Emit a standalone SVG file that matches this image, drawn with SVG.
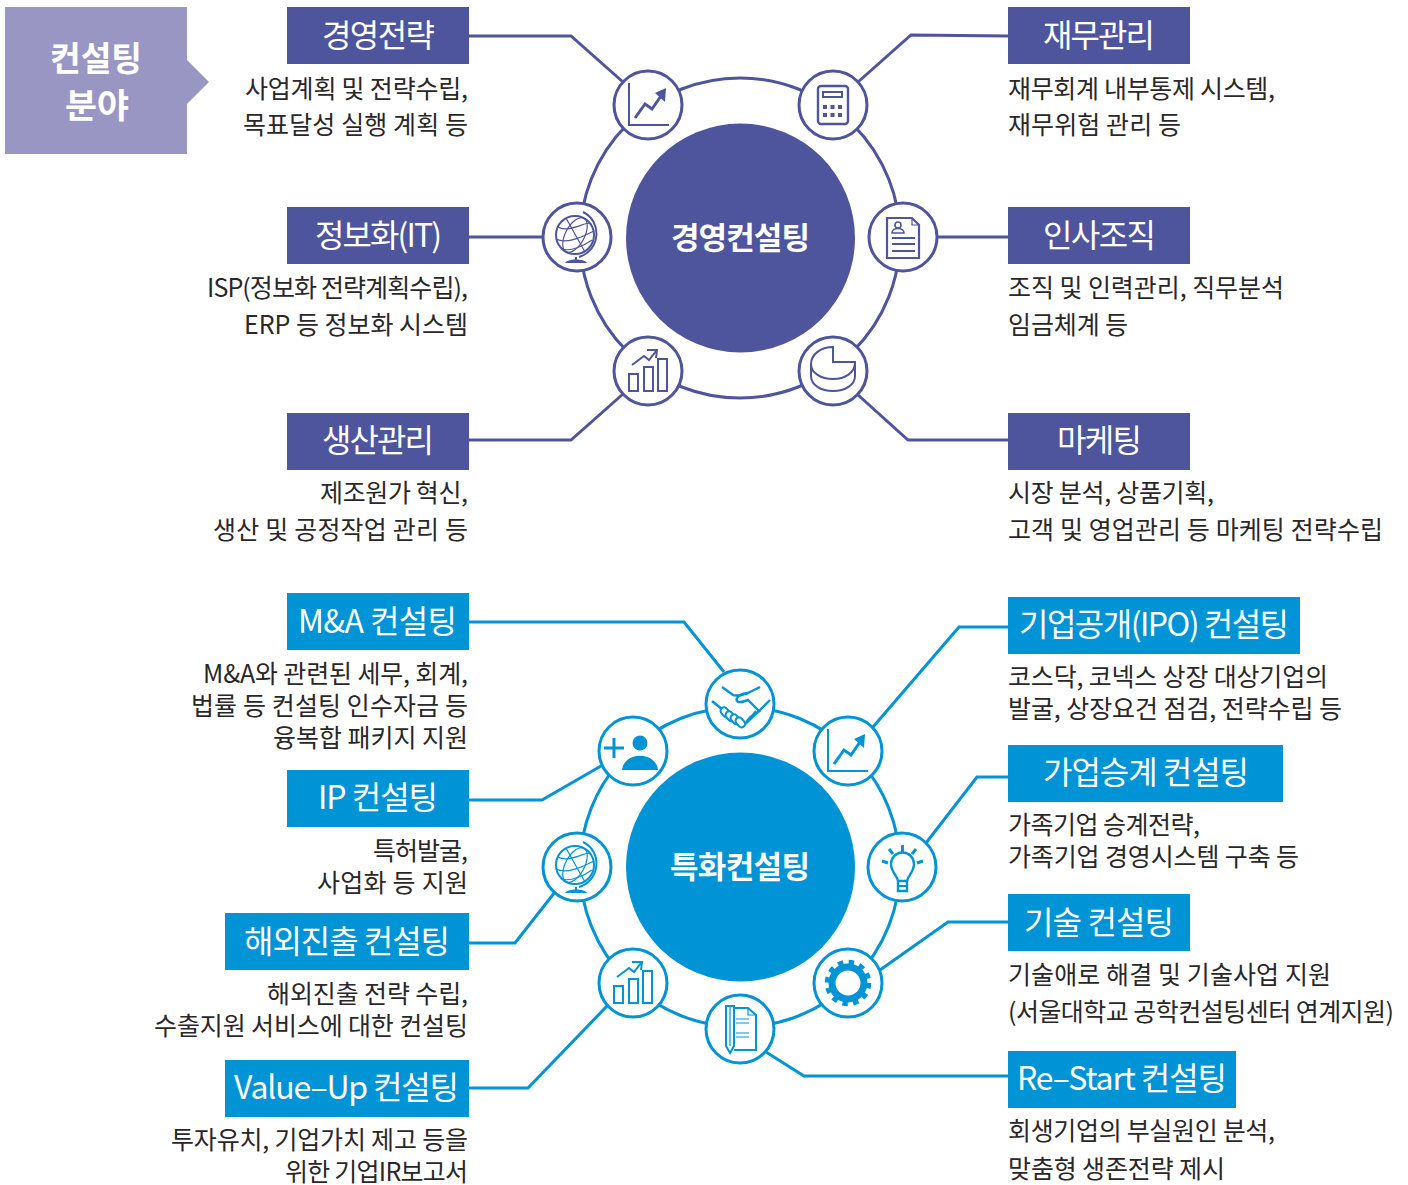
<svg xmlns="http://www.w3.org/2000/svg" width="1408" height="1185" viewBox="0 0 1408 1185">
<style>
text{font-family:"Noto Sans CJK KR","Noto Sans",sans-serif}
.d{font-size:25px;fill:#2b2729}
.h{font-size:32px;fill:#fff}
.c{font-size:34px;fill:#fff;font-weight:700}
.k{font-size:31px;fill:#fff;font-weight:700}
.ind{color:#4e559d}.blu{color:#0093d5}
.line{fill:none;stroke:currentColor;stroke-width:3}
.n{fill:#fff;stroke:currentColor;stroke-width:3}
.s{fill:none;stroke:currentColor;stroke-width:2}
.m{fill:none;stroke:currentColor;stroke-width:3}
.t{fill:none;stroke:currentColor;stroke-width:1.200}
.f{fill:currentColor;stroke:none}
.w{fill:#fff;stroke:currentColor;stroke-width:2}
</style>
<defs>
<g id="i-line"><path class="s" d="M-19-22V20H21"/><path class="m" d="M-13 13L-3-1 4 4 13-9"/><path class="f" d="M7-12L18-17 17-3Z"/></g>
<g id="i-globe"><circle class="s" cx="-2" cy="-2" r="19"/><ellipse class="t" cx="-2" cy="-2" rx="9.500" ry="19" transform="rotate(28 -2 -2)"/><path class="t" d="M-11-19L8 15M-19-10C-9-4 6-14 13-14M-21 2C-9 8 8-2 17-6M-15 12C-6 15 8 8 15 3"/><path class="s" d="M6-25C25-16 24 13 2 20"/><path class="s" d="M-1 20V23"/><path class="f" d="M-12 26C-10 22 6 21 10 26Z"/></g>
<g id="i-bars"><path class="s" d="M-19 3H-10V20H-19ZM-4-4H5V20H-4ZM10-12H19V20H10Z"/><path class="s" d="M-16-6L-4-15 1-11 8-20M-1-21H9L8-13"/></g>
</defs>

<g id="connectors-top" class="ind">
<circle class="line" cx="740" cy="238" r="160"/>
<path class="line" d="M469 36H571L623 82M1008 36L911 35 858 82M469 237H543M938 237H1008M469 440H571L623 394M1008 440H908L857 394"/>
</g>
<g id="connectors-bottom" class="blu">
<circle class="line" cx="740" cy="867" r="160"/>
<path class="line" d="M469 622H684L724 672M1008 627H959L873 727M469 800H542L601 766M1008 777H977L926 843M469 943H515L555 892M1008 922H948L880 970M469 1088H528L608 1005M1008 1076H804L766 1052"/>
</g>

<g id="category">
<path fill="#9a96c4" d="M5 7H187V60L209 82 187 104V154H5Z"/>
<text class="c" x="50" y="71" textLength="92" lengthAdjust="spacingAndGlyphs">컨설팅</text>
<text class="c" x="65" y="118" textLength="64" lengthAdjust="spacingAndGlyphs">분야</text>
</g>

<g id="core-top" class="ind"><circle class="f" cx="740.500" cy="238" r="114.500"/><text class="k" x="671" y="249" textLength="139">경영컨설팅</text></g>
<g id="core-bottom" class="blu"><circle class="f" cx="740.500" cy="867" r="114.500"/><text class="k" x="670" y="878" textLength="140">특화컨설팅</text></g>

<g id="icon-strategy" class="ind"><circle class="n" cx="648" cy="105" r="34"/><use href="#i-line" x="648" y="105"/></g>
<g id="icon-finance" class="ind"><circle class="n" cx="833" cy="105" r="34"/>
<rect class="m" style="stroke-width:2.400" x="818" y="86" width="30" height="38" rx="3"/><rect class="s" x="823" y="92" width="19" height="5"/>
<path class="f" d="M823 105h4v4h-4zM830.500 105h4v4h-4zM838 105h4v4h-4zM823 113h4v4h-4zM830.500 113h4v4h-4zM838 113h4v4h-4z"/></g>
<g id="icon-it" class="ind"><circle class="n" cx="577" cy="237" r="34"/><use href="#i-globe" x="577" y="237"/></g>
<g id="icon-hr" class="ind"><circle class="n" cx="903" cy="237" r="34"/>
<path class="m" style="stroke-width:2.200" d="M887 218H912L919 225V258H887Z"/><path class="t" d="M912 218V225H919"/><path class="s" d="M892 238H915M892 244H915M892 251H915"/><circle class="s" style="stroke-width:1.600" cx="898" cy="225" r="3"/><path class="s" style="stroke-width:1.600" d="M892 233C892 227 904 227 904 233Z"/></g>
<g id="icon-production" class="ind"><circle class="n" cx="648" cy="371" r="34"/><use href="#i-bars" x="648" y="371"/></g>
<g id="icon-marketing" class="ind"><circle class="n" cx="833" cy="371" r="34"/>
<path class="s" d="M833 347C820 347 811 355 811 364C811 373 821 379 833 379C845 379 855 373 855 362H833ZM811 364V376C811 385 821 391 833 391C845 391 855 385 855 376V362"/></g>

<g id="icon-ma" class="blu"><circle class="n" cx="740" cy="704" r="34"/>
<path class="m" style="stroke-width:2.400" d="M722 687L733 695C738 697 745 694 750 692L760 687M712 701L723 710M770 700L758 712L745 724"/>
<path class="m" style="stroke-width:2.400" d="M749 693C741 693 735 698 737 701C739 704 744 701 748 700L760 712"/>
<rect class="w" x="721.500" y="707" width="7" height="11" rx="3.500" transform="rotate(-40 725 712)"/><rect class="w" x="726.500" y="711" width="7" height="11" rx="3.500" transform="rotate(-40 730 716)"/><rect class="w" x="731.500" y="714" width="7" height="11" rx="3.500" transform="rotate(-40 735 719)"/><rect class="w" x="736.500" y="717" width="7" height="11" rx="3.500" transform="rotate(-40 740 722)"/>
<path class="s" d="M746 722L751 716M751 717L756 711"/></g>
<g id="icon-ip" class="blu"><circle class="n" cx="633" cy="751" r="34"/>
<path class="m" d="M604 748H624M614 738V758"/><circle class="f" cx="640" cy="743" r="7.500"/><path class="f" d="M622 770C624 751 656 751 658 770Z"/></g>
<g id="icon-ipo" class="blu"><circle class="n" cx="848" cy="751" r="34"/><use href="#i-line" x="847" y="751"/></g>
<g id="icon-succession" class="blu"><circle class="n" cx="902" cy="867" r="34"/>
<path class="m" style="stroke-width:2.400" d="M898 881C897 875 891 872 891 864A11.500 11.500 0 0 1 914 864C914 872 908 875 907 881ZM898 881V891H907V881"/><path class="s" d="M898 886H907"/><path class="m" d="M902.500 845V852M889 849L893 854M916 849L912 854M882 861L888 863M923 861L917 863"/></g>
<g id="icon-tech" class="blu"><circle class="n" cx="848" cy="983" r="34"/><circle cx="848" cy="983" r="16" fill="none" stroke="currentColor" stroke-width="7"/><circle cx="848" cy="983" r="21" fill="none" stroke="currentColor" stroke-width="4.500" stroke-dasharray="5.500 5.500"/></g>
<g id="icon-restart" class="blu"><circle class="n" cx="740" cy="1029" r="34"/>
<path class="s" d="M734 1008H748L756 1015V1050H734"/><path class="t" d="M748 1008V1015H756"/><path class="s" d="M726 1006H734V1046L730 1053 726 1046Z"/><path class="t" d="M730 1006V1046M736 1019H749M736 1023H749M736 1033H749M736 1037H749"/></g>
<g id="icon-overseas" class="blu"><circle class="n" cx="577" cy="867" r="34"/><use href="#i-globe" x="577" y="867"/></g>
<g id="icon-valueup" class="blu"><circle class="n" cx="633" cy="983" r="34"/><use href="#i-bars" x="633" y="983"/></g>

<g id="n-strategy"><rect x="287" y="7" width="182" height="57" fill="#4e559d"/><text class="h" x="322" y="47" textLength="113">경영전략</text>
<text class="d" x="245" y="98" textLength="223">사업계획 및 전략수립,</text><text class="d" x="243" y="134" textLength="225">목표달성 실행 계획 등</text></g>
<g id="n-finance"><rect x="1008" y="7" width="182" height="57" fill="#4e559d"/><text class="h" x="1043" y="47" textLength="112">재무관리</text>
<text class="d" x="1008" y="98" textLength="267">재무회계 내부통제 시스템,</text><text class="d" x="1008" y="134" textLength="173">재무위험 관리 등</text></g>
<g id="n-it"><rect x="287" y="207" width="182" height="57" fill="#4e559d"/><text class="h" x="315" y="247" textLength="127">정보화(IT)</text>
<text class="d" x="207" y="297" textLength="261">ISP(정보화 전략계획수립),</text><text class="d" x="244" y="334" textLength="224">ERP 등 정보화 시스템</text></g>
<g id="n-hr"><rect x="1008" y="207" width="182" height="57" fill="#4e559d"/><text class="h" x="1043" y="247" textLength="113">인사조직</text>
<text class="d" x="1008" y="297" textLength="276">조직 및 인력관리, 직무분석</text><text class="d" x="1008" y="334" textLength="120">임금체계 등</text></g>
<g id="n-production"><rect x="287" y="413" width="182" height="57" fill="#4e559d"/><text class="h" x="322" y="452" textLength="112">생산관리</text>
<text class="d" x="320" y="502" textLength="148">제조원가 혁신,</text><text class="d" x="213" y="539" textLength="255">생산 및 공정작업 관리 등</text></g>
<g id="n-marketing"><rect x="1008" y="413" width="182" height="57" fill="#4e559d"/><text class="h" x="1057" y="452" textLength="85">마케팅</text>
<text class="d" x="1008" y="502" textLength="206">시장 분석, 상품기획,</text><text class="d" x="1008" y="539" textLength="375">고객 및 영업관리 등 마케팅 전략수립</text></g>

<g id="n-ma"><rect x="287" y="593" width="182" height="57" fill="#0093d5"/><text class="h" x="298" y="633" textLength="159">M&amp;A 컨설팅</text>
<text class="d" x="203" y="683" textLength="265">M&amp;A와 관련된 세무, 회계,</text><text class="d" x="191" y="715" textLength="277">법률 등 컨설팅 인수자금 등</text><text class="d" x="273" y="747" textLength="195">융복합 패키지 지원</text></g>
<g id="n-ip"><rect x="287" y="770" width="182" height="57" fill="#0093d5"/><text class="h" x="318" y="809" textLength="120">IP 컨설팅</text>
<text class="d" x="373" y="860" textLength="95">특허발굴,</text><text class="d" x="317" y="892" textLength="151">사업화 등 지원</text></g>
<g id="n-overseas"><rect x="225" y="913" width="244" height="57" fill="#0093d5"/><text class="h" x="244" y="953" textLength="206">해외진출 컨설팅</text>
<text class="d" x="267" y="1003" textLength="201">해외진출 전략 수립,</text><text class="d" x="154" y="1035" textLength="314">수출지원 서비스에 대한 컨설팅</text></g>
<g id="n-valueup"><rect x="225" y="1060" width="244" height="57" fill="#0093d5"/><text class="h" x="234" y="1099" textLength="225">Value–Up 컨설팅</text>
<text class="d" x="171" y="1149" textLength="297">투자유치, 기업가치 제고 등을</text><text class="d" x="285" y="1181" textLength="183">위한 기업IR보고서</text></g>
<g id="n-ipo"><rect x="1008" y="597" width="292" height="57" fill="#0093d5"/><text class="h" x="1019" y="636" textLength="270">기업공개(IPO) 컨설팅</text>
<text class="d" x="1008" y="686" textLength="320">코스닥, 코넥스 상장 대상기업의</text><text class="d" x="1008" y="718" textLength="334">발굴, 상장요건 점검, 전략수립 등</text></g>
<g id="n-succession"><rect x="1008" y="745" width="275" height="57" fill="#0093d5"/><text class="h" x="1043" y="784" textLength="206">가업승계 컨설팅</text>
<text class="d" x="1008" y="834" textLength="192">가족기업 승계전략,</text><text class="d" x="1008" y="866" textLength="291">가족기업 경영시스템 구축 등</text></g>
<g id="n-tech"><rect x="1008" y="894" width="182" height="57" fill="#0093d5"/><text class="h" x="1024" y="934" textLength="150">기술 컨설팅</text>
<text class="d" x="1008" y="984" textLength="323">기술애로 해결 및 기술사업 지원</text><text class="d" x="1008" y="1021" textLength="386">(서울대학교 공학컨설팅센터 연계지원)</text></g>
<g id="n-restart"><rect x="1008" y="1051" width="228" height="57" fill="#0093d5"/><text class="h" x="1017" y="1090" textLength="210">Re–Start 컨설팅</text>
<text class="d" x="1008" y="1140" textLength="267">회생기업의 부실원인 분석,</text><text class="d" x="1008" y="1178" textLength="217">맞춤형 생존전략 제시</text></g>
</svg>
